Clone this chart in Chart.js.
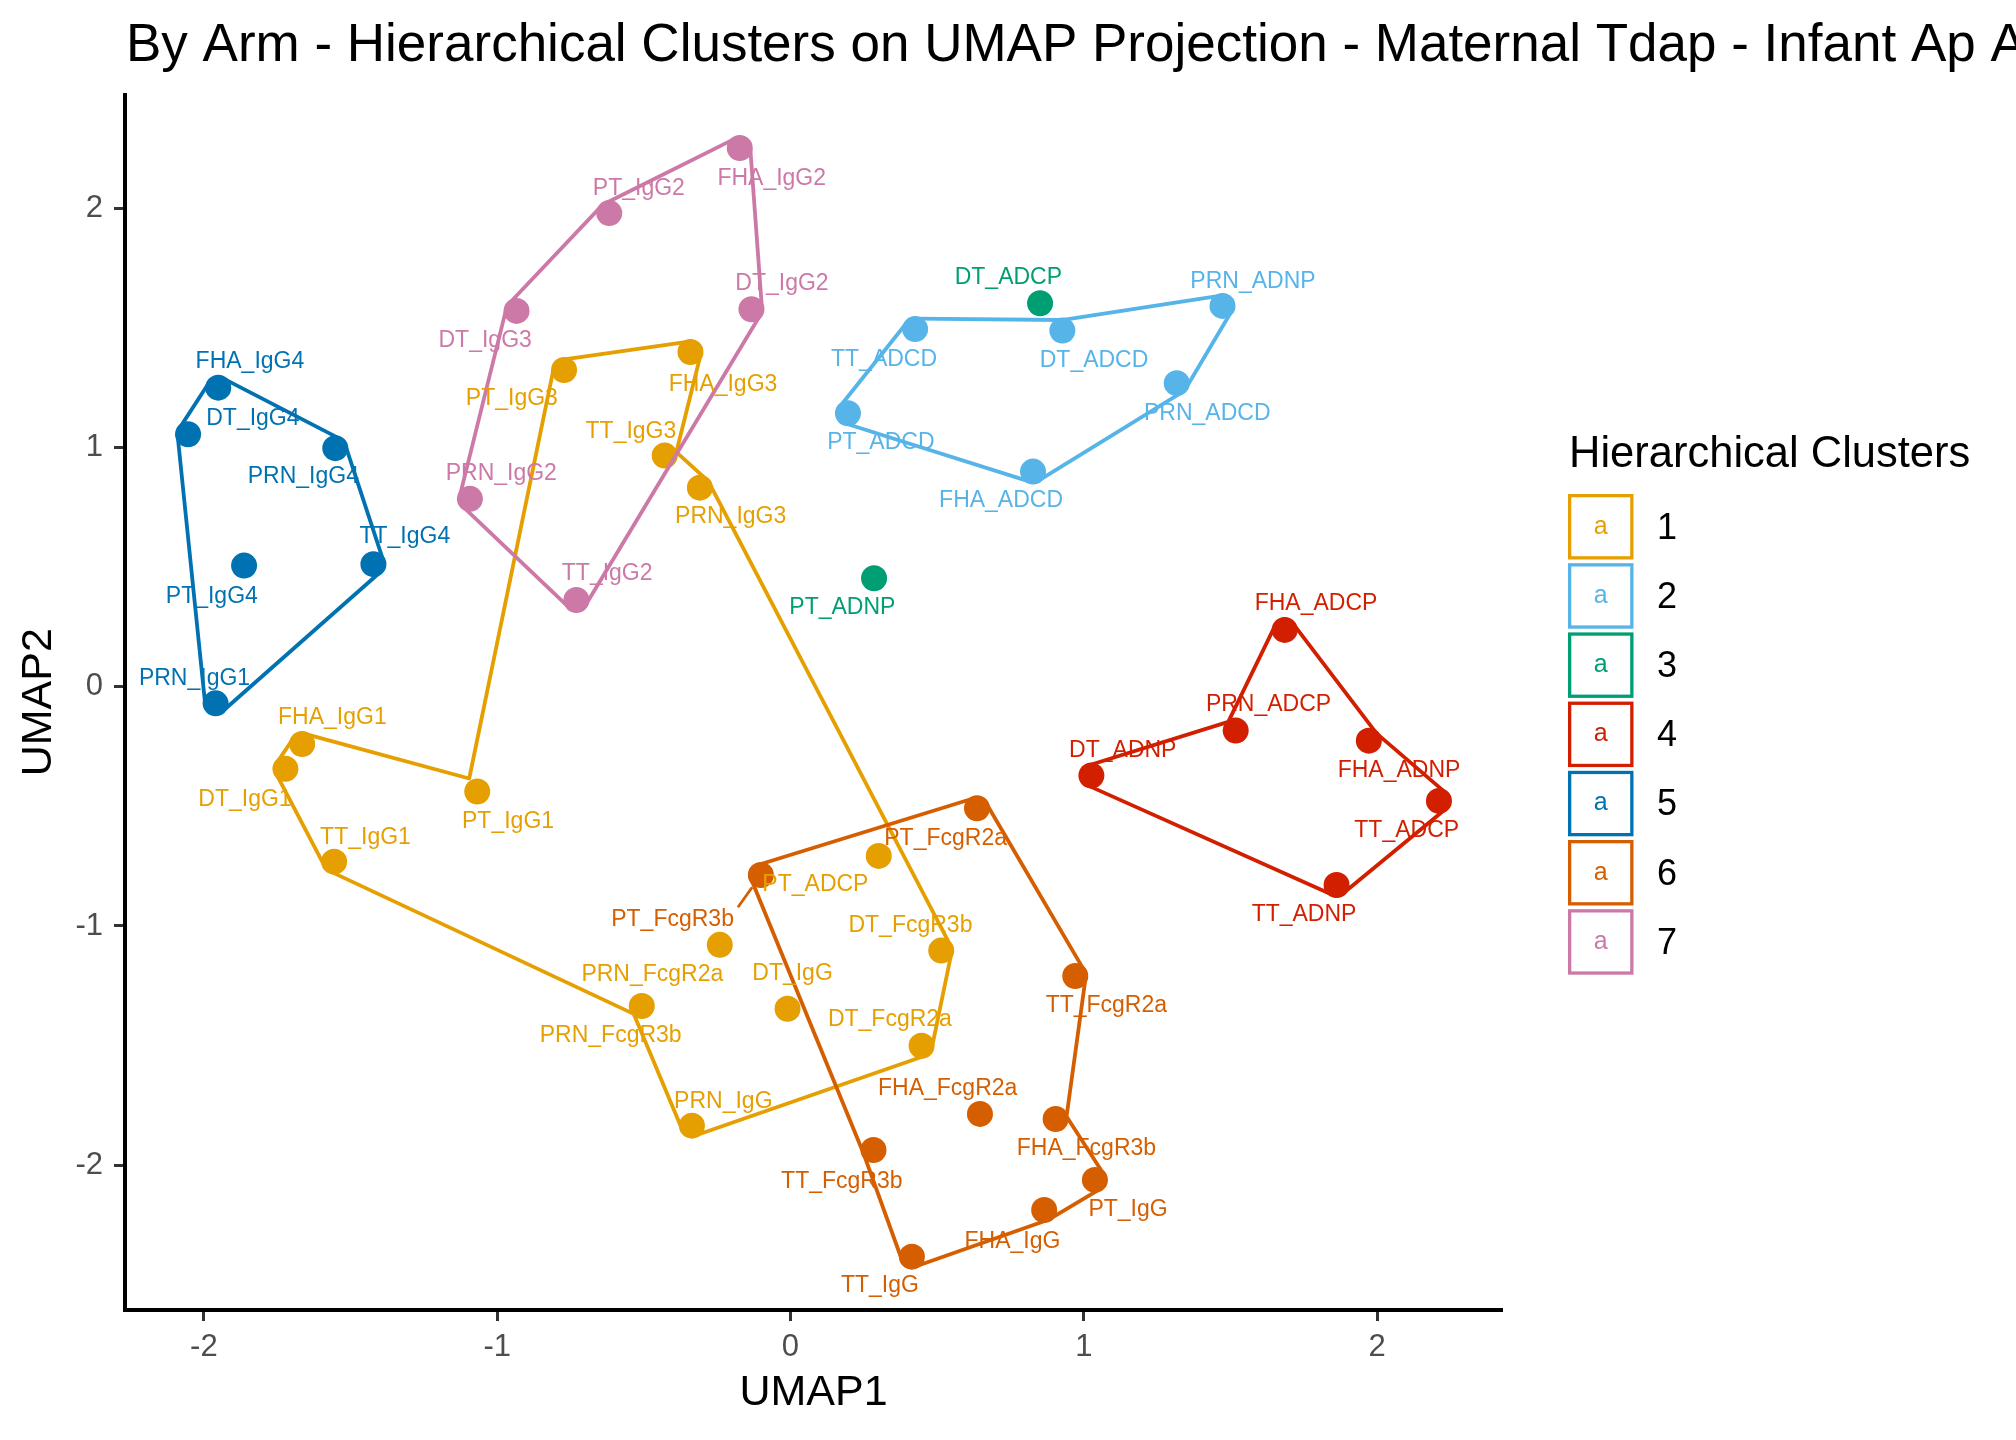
<!DOCTYPE html>
<html>
<head>
<meta charset="utf-8">
<title>UMAP hierarchical clusters</title>
<script src="https://cdn.jsdelivr.net/npm/chart.js@4.4.1/dist/chart.umd.min.js"></script>
<style>
    html, body { margin: 0; padding: 0; background: #ffffff; }
    #wrap { width: 2016px; height: 1440px; }
</style>
</head>
<body>
<div id="wrap"><canvas id="umapChart" width="2016" height="1440"></canvas></div>
<script>
// --- data --------------------------------------------------------------

const clusterIds = ["1", "2", "3", "4", "5", "6", "7"];
const clusterColors = ["#E69F00", "#56B4E9", "#009E73", "#D11F00", "#0072B2", "#D55E00", "#CC79A7"];

const featureNames = [
    "PT_IgG3", "FHA_IgG3", "TT_IgG3", "PRN_IgG3", "FHA_IgG1", "DT_IgG1", "TT_IgG1", "PT_IgG1",
    "PT_ADCP", "DT_FcgR3b", "PRN_FcgR2a", "PRN_FcgR3b", "DT_IgG", "DT_FcgR2a", "PRN_IgG",
    "TT_ADCD", "DT_ADCD", "PRN_ADNP", "PRN_ADCD", "FHA_ADCD", "PT_ADCD",
    "DT_ADCP", "PT_ADNP",
    "FHA_ADCP", "PRN_ADCP", "DT_ADNP", "FHA_ADNP", "TT_ADCP", "TT_ADNP",
    "FHA_IgG4", "DT_IgG4", "PRN_IgG4", "TT_IgG4", "PT_IgG4", "PRN_IgG1",
    "PT_FcgR3b", "PT_FcgR2a", "TT_FcgR2a", "FHA_FcgR2a", "FHA_FcgR3b", "PT_IgG", "FHA_IgG", "TT_IgG", "TT_FcgR3b",
    "FHA_IgG2", "PT_IgG2", "DT_IgG2", "DT_IgG3", "PRN_IgG2", "TT_IgG2",
];
const featureCluster = [
    1, 1, 1, 1, 1, 1, 1, 1, 1, 1, 1, 1, 1, 1, 1,
    2, 2, 2, 2, 2, 2,
    3, 3,
    4, 4, 4, 4, 4, 4,
    5, 5, 5, 5, 5, 5,
    6, 6, 6, 6, 6, 6, 6, 6, 6,
    7, 7, 7, 7, 7, 7,
];
const umap1 = [
    -0.772, -0.341, -0.429, -0.309, -1.665, -1.722, -1.556, -1.068,
    0.301, 0.514, -0.241, -0.507, -0.010, 0.447, -0.336,
    0.425, 0.927, 1.473, 1.317, 0.827, 0.196,
    0.851, 0.285,
    1.685, 1.518, 1.026, 1.972, 2.211, 1.862,
    -1.951, -2.054, -1.552, -1.422, -1.863, -1.960,
    -0.101, 0.636, 0.971, 0.646, 0.904, 1.038, 0.865, 0.414, 0.283,
    -0.173, -0.618, -0.133, -0.934, -1.093, -0.730,
];
const umap2 = [
    1.325, 1.400, 0.967, 0.833, -0.239, -0.343, -0.731, -0.438,
    -0.707, -1.103, -1.079, -1.335, -1.346, -1.501, -1.835,
    1.496, 1.490, 1.593, 1.270, 0.900, 1.144,
    1.604, 0.454,
    0.238, -0.183, -0.371, -0.225, -0.477, -0.829,
    1.251, 1.056, 0.998, 0.513, 0.507, -0.069,
    -0.787, -0.508, -1.209, -1.786, -1.807, -2.062, -2.188, -2.383, -1.937,
    2.253, 1.981, 1.579, 1.572, 0.786, 0.363,
];
// where the repelled labels ended up (label centres, data units)
const labelUmap1 = [
    -0.950, -0.230, -0.544, -0.204, -1.562, -1.860, -1.449, -0.963,
    0.085, 0.409, -0.471, -0.613, 0.007, 0.339, -0.229,
    0.319, 1.035, 1.577, 1.421, 0.718, 0.308,
    0.743, 0.177,
    1.792, 1.630, 1.133, 2.075, 2.101, 1.751,
    -1.843, -1.833, -1.661, -1.315, -1.973, -2.032,
    -0.402, 0.529, 1.077, 0.536, 1.009, 1.151, 0.757, 0.305, 0.175,
    -0.064, -0.517, -0.029, -1.041, -0.986, -0.625,
];
const labelUmap2 = [
    1.203, 1.263, 1.067, 0.712, -0.131, -0.470, -0.629, -0.564,
    -0.829, -0.999, -1.205, -1.460, -1.198, -1.393, -1.735,
    1.367, 1.364, 1.695, 1.144, 0.778, 1.019,
    1.709, 0.329,
    0.347, -0.076, -0.267, -0.350, -0.601, -0.951,
    1.360, 1.123, 0.879, 0.628, 0.377, 0.036,
    -0.972, -0.637, -1.335, -1.679, -1.930, -2.188, -2.320, -2.506, -2.069,
    2.123, 2.085, 1.685, 1.448, 0.893, 0.475,
];
// labels that got a leader segment
const segmentLabels = ["PT_FcgR3b"];

// hull outlines per cluster, in drawing order
const hull1 = ["PT_IgG3", "FHA_IgG3", "TT_IgG3", "PRN_IgG3", "DT_FcgR3b", "DT_FcgR2a", "PRN_IgG", "PRN_FcgR3b", "TT_IgG1", "DT_IgG1", "FHA_IgG1", "PT_IgG1"];
const hull2 = ["PT_ADCD", "TT_ADCD", "DT_ADCD", "PRN_ADNP", "PRN_ADCD", "FHA_ADCD"];
const hull3 = [];
const hull4 = ["FHA_ADCP", "FHA_ADNP", "TT_ADCP", "TT_ADNP", "DT_ADNP", "PRN_ADCP"];
const hull5 = ["FHA_IgG4", "PRN_IgG4", "TT_IgG4", "PRN_IgG1", "DT_IgG4"];
const hull6 = ["PT_FcgR3b", "PT_FcgR2a", "TT_FcgR2a", "FHA_FcgR3b", "PT_IgG", "FHA_IgG", "TT_IgG", "TT_FcgR3b"];
const hull7 = ["FHA_IgG2", "DT_IgG2", "TT_IgG2", "PRN_IgG2", "DT_IgG3", "PT_IgG2"];
const hullOrders = [hull1, hull2, hull3, hull4, hull5, hull6, hull7];

const xTickValues = [-2, -1, 0, 1, 2];
const yTickValues = [-2, -1, 0, 1, 2];
const xRange = [-2.269, 2.426];
const yRange = [-2.606, 2.477];

const chartTitle = "By Arm - Hierarchical Clusters on UMAP Projection - Maternal Tdap - Infant Ap Arm";
const legendTitle = "Hierarchical Clusters";

// --- styling ------------------------------------------------------------
const FONT = "'Liberation Sans', Arial, sans-serif";
const POINT_RADIUS = 13;
const HULL_EXPAND = 10.5; // hull drawn a little outside the points
const HULL_WIDTH = 3.8;

/**
 * Traces a hull polygon pushed outwards by d pixels
 * (round at convex corners, mitred at concave ones).
 */
function traceExpandedHull(ctx, pts, d) {
    const n = pts.length;
    let area = 0;
    for (let i = 0; i < n; i++) {
        const p = pts[i], q = pts[(i + 1) % n];
        area += p.x * q.y - q.x * p.y;
    }
    const s = area > 0 ? 1 : -1;
    const normals = pts.map((p, i) => {
        const q = pts[(i + 1) % n];
        const dx = q.x - p.x, dy = q.y - p.y, len = Math.hypot(dx, dy);
        return { x: s * dy / len, y: -s * dx / len };
    });
    for (let i = 0; i < n; i++) {
        const p = pts[i], prev = pts[(i - 1 + n) % n], next = pts[(i + 1) % n];
        const n0 = normals[(i - 1 + n) % n], n1 = normals[i];
        const cross = (p.x - prev.x) * (next.y - p.y) - (p.y - prev.y) * (next.x - p.x);
        if (cross * s > 0) {
            const sx = p.x + d * n0.x, sy = p.y + d * n0.y;
            if (i === 0) ctx.moveTo(sx, sy); else ctx.lineTo(sx, sy);
            ctx.arc(p.x, p.y, d, Math.atan2(n0.y, n0.x), Math.atan2(n1.y, n1.x), s < 0);
        } else {
            const k = Math.max(1 + n0.x * n1.x + n0.y * n1.y, 0.25);
            const mx = p.x + d * (n0.x + n1.x) / k, my = p.y + d * (n0.y + n1.y) / k;
            if (i === 0) ctx.moveTo(mx, my); else ctx.lineTo(mx, my);
        }
    }
    ctx.closePath();
}

const hullAndLabelPlugin = {
    id: "hullAndLabels",
    afterDatasetsDraw(chart) {
        const ctx = chart.ctx;
        const xs = chart.scales.x, ys = chart.scales.y;
        ctx.save();

        // hull outlines
        hullOrders.forEach((hull, c) => {
            if (hull.length < 3) return;
            const pts = hull.map((name) => {
                const i = featureNames.indexOf(name);
                return { x: xs.getPixelForValue(umap1[i]), y: ys.getPixelForValue(umap2[i]) };
            });
            ctx.beginPath();
            traceExpandedHull(ctx, pts, HULL_EXPAND);
            ctx.strokeStyle = clusterColors[c];
            ctx.lineWidth = HULL_WIDTH;
            ctx.lineJoin = "round";
            ctx.stroke();
        });

        // text labels
        ctx.font = `23px ${FONT}`;
        ctx.textAlign = "center";
        ctx.textBaseline = "middle";
        featureNames.forEach((name, i) => {
            const color = clusterColors[featureCluster[i] - 1];
            const lx = xs.getPixelForValue(labelUmap1[i]);
            const ly = ys.getPixelForValue(labelUmap2[i]);
            if (segmentLabels.includes(name)) {
                const px = xs.getPixelForValue(umap1[i]);
                const py = ys.getPixelForValue(umap2[i]);
                const halfW = ctx.measureText(name).width / 2 + 4;
                const halfH = 12;
                const sx = Math.min(Math.max(px, lx - halfW), lx + halfW);
                const sy = Math.min(Math.max(py, ly - halfH), ly + halfH);
                const len = Math.hypot(px - sx, py - sy);
                const ex = px - (px - sx) / len * (POINT_RADIUS + 2);
                const ey = py - (py - sy) / len * (POINT_RADIUS + 2);
                ctx.beginPath();
                ctx.moveTo(sx, sy);
                ctx.lineTo(ex, ey);
                ctx.strokeStyle = color;
                ctx.lineWidth = 2.8;
                ctx.stroke();
            }
            ctx.fillStyle = color;
            ctx.fillText(name, lx, ly);
        });
        ctx.restore();
    },
    afterDraw(chart) {
        const ctx = chart.ctx;
        ctx.save();

        // main title (runs off the right edge like the original)
        ctx.fillStyle = "#000000";
        ctx.font = `53px ${FONT}`;
        ctx.textAlign = "left";
        ctx.textBaseline = "alphabetic";
        ctx.fillText(chartTitle, 126, 61);

        // legend
        ctx.font = `43.5px ${FONT}`;
        ctx.fillText(legendTitle, 1569, 467);
        clusterIds.forEach((id, c) => {
            const top = 494 + c * 69.2;
            const size = 65.5;
            ctx.strokeStyle = clusterColors[c];
            ctx.lineWidth = 3.3;
            ctx.strokeRect(1568 + 1.65, top + 1.65, size - 3.3, size - 3.3);
            ctx.fillStyle = clusterColors[c];
            ctx.font = `25px ${FONT}`;
            ctx.textAlign = "center";
            ctx.textBaseline = "middle";
            ctx.fillText("a", 1568 + size / 2, top + size / 2);
            ctx.fillStyle = "#000000";
            ctx.font = `36px ${FONT}`;
            ctx.textAlign = "left";
            ctx.fillText(id, 1657, top + size / 2 + 2);
        });
        ctx.restore();
    },
};

function buildDatasets() {
    return clusterIds.map((id, c) => {
        const points = [];
        featureNames.forEach((name, i) => {
            if (featureCluster[i] === c + 1) points.push({ x: umap1[i], y: umap2[i] });
        });
        return {
            label: id,
            data: points,
            showLine: false,
            pointRadius: POINT_RADIUS,
            pointHoverRadius: POINT_RADIUS,
            pointBorderWidth: 0,
            backgroundColor: clusterColors[c],
            borderColor: clusterColors[c],
        };
    });
}

function initChart() {
    const canvas = document.getElementById("umapChart");
    new Chart(canvas, {
        type: "scatter",
        data: { datasets: buildDatasets() },
        options: {
            responsive: false,
            devicePixelRatio: 1,
            animation: false,
            events: [],
            layout: { padding: { left: 0, top: 94.5, right: 514, bottom: 0 } },
            plugins: {
                legend: { display: false },
                title: { display: false },
                tooltip: { enabled: false },
            },
            scales: {
                x: {
                    type: "linear",
                    min: xRange[0],
                    max: xRange[1],
                    afterBuildTicks: (scale) => {
                        scale.ticks = xTickValues.map((v) => ({ value: v }));
                    },
                    afterFit: (scale) => {
                        scale.height = 130;
                    },
                    ticks: {
                        autoSkip: false,
                        maxRotation: 0,
                        padding: 8,
                        color: "#4D4D4D",
                        font: { family: FONT, size: 31 },
                        callback: (value) => String(value),
                    },
                    grid: {
                        drawOnChartArea: false,
                        drawTicks: true,
                        tickLength: 11,
                        tickColor: "#333333",
                        tickWidth: 3,
                    },
                    border: { display: true, color: "#000000", width: 4 },
                    title: {
                        display: true,
                        text: "UMAP1",
                        color: "#000000",
                        font: { family: FONT, size: 43, lineHeight: 1.2 },
                        padding: { top: 0, bottom: 21 },
                    },
                },
                y: {
                    type: "linear",
                    min: yRange[0],
                    max: yRange[1],
                    afterBuildTicks: (scale) => {
                        scale.ticks = yTickValues.map((v) => ({ value: v }));
                    },
                    afterFit: (scale) => {
                        scale.width = 125;
                    },
                    ticks: {
                        autoSkip: false,
                        padding: 11,
                        color: "#4D4D4D",
                        font: { family: FONT, size: 31 },
                        callback: (value) => String(value),
                    },
                    grid: {
                        drawOnChartArea: false,
                        drawTicks: true,
                        tickLength: 11,
                        tickColor: "#333333",
                        tickWidth: 3,
                    },
                    border: { display: true, color: "#000000", width: 4 },
                    title: {
                        display: true,
                        text: "UMAP2",
                        color: "#000000",
                        font: { family: FONT, size: 43, lineHeight: 1.2 },
                        padding: { top: 13, bottom: 0 },
                    },
                },
            },
        },
        plugins: [hullAndLabelPlugin],
    });
}

initChart();
</script>
</body>
</html>
